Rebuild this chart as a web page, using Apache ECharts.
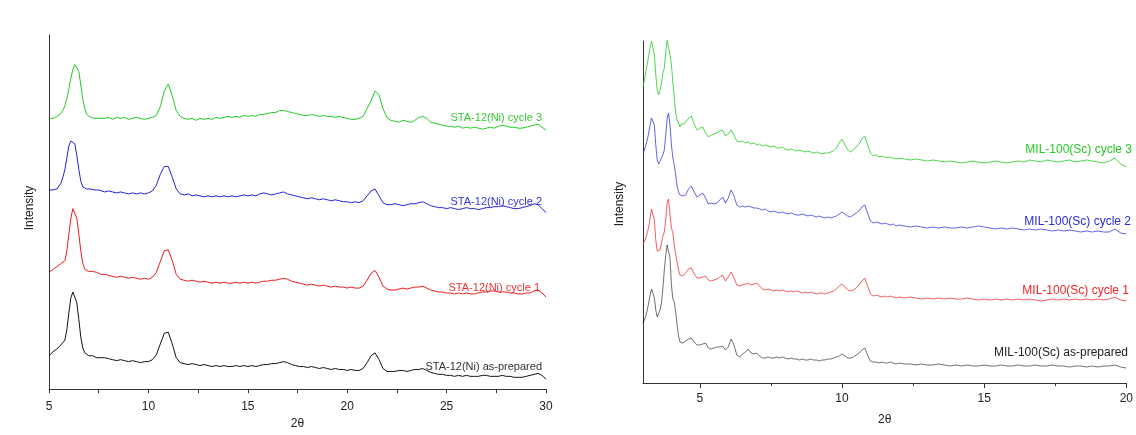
<!DOCTYPE html>
<html>
<head>
<meta charset="utf-8">
<script src="https://cdn.jsdelivr.net/npm/echarts@6/dist/echarts.min.js"></script>
<style>
  html, body { margin: 0; padding: 0; background: #fff; }
  #chart { width: 1136px; height: 435px; }
</style>
</head>
<body>
<div id="chart"></div>
<script>
// ---- STA-12(Ni) panel (left) ----
var staTwoTheta = [
  5.0,5.1,5.2,5.3,5.4,5.5,5.6,5.7,5.8,5.9,
  6.0,6.1,6.2,6.3,6.4,6.5,6.6,6.7,6.8,6.9,
  7.0,7.1,7.2,7.3,7.4,7.5,7.6,
  7.8,8.0,8.2,8.4,8.6,8.8,9.0,9.2,9.4,9.6,9.8,
  10.0,10.2,10.4,10.6,10.8,11.0,11.2,11.4,11.6,11.8,
  12.0,12.2,12.4,12.6,12.8,13.0,13.2,13.4,13.6,13.8,
  14.0,14.2,14.4,14.6,14.8,15.0,15.2,15.4,15.6,15.8,
  16.0,16.2,16.4,16.6,16.8,17.0,17.2,17.4,17.6,17.8,
  18.0,18.2,18.4,18.6,18.8,19.0,19.2,19.4,19.6,19.8,
  20.0,20.2,20.4,20.6,20.8,21.0,21.2,21.4,21.6,21.8,
  22.0,22.2,22.4,22.6,22.8,23.0,23.2,23.4,23.6,23.8,
  24.0,24.2,24.4,24.6,24.8,25.0,25.2,25.4,25.6,25.8,
  26.0,26.2,26.4,26.6,26.8,27.0,27.2,27.4,27.6,27.8,
  28.0,28.2,28.4,28.6,28.8,29.0,29.2,29.4,29.6,29.8,
  30.0
];
var staCycle3 = [
  277,278,277,279,279,280,282,285,290,297,
  307,318,327,332,331,325,311,297,287,281,
  279,278,279,277,278,277,279,
  277,278,276,278,277,278,276,277,278,277,276,
  277,278,280,289,305,312,300,285,279,277,
  276,277,275,277,276,277,276,278,277,278,
  279,278,279,278,280,279,280,279,281,281,
  282,283,283,285,285,284,283,282,281,280,
  280,281,280,279,280,279,279,278,279,278,
  277,276,276,277,279,287,295,305,301,287,
  278,275,274,273,275,274,273,275,278,279,
  277,273,272,271,270,269,269,268,269,267,
  268,267,268,267,266,267,268,267,269,270,
  269,268,268,267,267,268,269,270,271,268,
  265
];
var staCycle2 = [
  204,205,204,206,205,207,211,217,225,237,
  249,254,255,251,239,225,213,207,206,205,
  204,205,203,204,203,204,203,
  202,203,202,201,202,201,200,201,200,201,200,
  201,203,209,220,228,228,217,205,200,199,
  200,198,199,198,197,198,197,198,197,198,
  197,198,197,198,199,198,199,198,200,201,
  200,199,200,201,202,200,199,198,197,196,
  195,196,195,194,195,194,193,194,193,192,
  192,191,192,191,193,198,203,205,198,191,
  189,189,190,189,188,189,190,190,191,192,
  190,188,187,186,186,185,186,185,184,185,
  186,185,185,184,185,186,186,187,187,188,
  187,186,185,185,186,187,188,190,189,185,
  181
];
var staCycle1 = [
  120,121,123,124,126,127,129,131,132,142,
  159,175,185,183,175,159,142,129,123,122,
  121,120,121,119,120,119,118,
  118,117,116,115,116,115,114,115,114,113,114,
  113,115,120,131,142,143,132,118,113,112,
  111,112,111,110,111,110,109,110,109,110,
  109,109,110,109,110,109,110,109,110,111,
  111,112,112,113,114,113,111,110,109,108,
  107,108,107,106,107,106,105,106,105,105,
  104,105,104,104,106,112,119,122,115,106,
  103,102,102,103,104,103,104,105,105,106,
  104,102,101,100,100,99,99,98,99,98,
  99,98,98,99,100,100,101,101,100,100,
  100,99,99,98,98,99,99,101,102,99,
  95
];
var staAsPrepared = [
  35,37,39,40,42,44,46,48,51,62,
  79,94,100,99,89,72,54,43,38,36,
  35,34,35,34,33,34,33,
  33,32,31,30,31,30,29,30,29,28,29,
  29,31,36,47,58,59,47,33,28,27,
  26,27,26,25,26,25,24,25,24,25,
  24,24,25,24,25,24,25,24,25,26,
  26,27,27,28,29,28,26,25,24,24,
  23,24,23,22,23,22,21,22,21,21,
  20,21,20,20,22,28,35,38,31,22,
  19,19,19,20,20,19,20,21,21,22,
  20,18,17,16,16,15,15,14,15,14,
  15,14,14,14,15,15,14,14,14,15,
  14,14,13,13,13,14,15,16,17,15,
  11
];
var staTicks = [5, 7.5, 10, 12.5, 15, 17.5, 20, 22.5, 25, 27.5, 30];
var staTickLabels = [5, 10, 15, 20, 25, 30];

// ---- MIL-100(Sc) panel (right) ----
var milTwoTheta = [
  3.00,3.05,3.10,3.15,3.20,3.25,3.30,3.35,3.40,3.45,
  3.50,3.55,3.60,3.65,3.70,3.75,3.80,3.85,3.90,3.95,
  4.00,4.05,4.10,4.15,4.20,4.25,4.30,4.35,4.40,4.45,
  4.50,4.55,4.60,
  4.7,4.8,4.9,
  5.0,5.1,5.2,5.3,5.4,5.5,5.6,5.7,5.8,5.9,
  6.0,6.1,6.2,6.3,6.4,6.5,6.6,6.7,6.8,6.9,
  7.0,7.1,7.2,7.3,7.4,7.5,7.6,7.7,7.8,7.9,
  8.0,8.1,8.2,8.3,8.4,8.5,8.6,8.7,8.8,8.9,
  9.0,9.1,9.2,9.3,9.4,9.5,9.6,9.7,9.8,9.9,
  10.0,10.1,10.2,10.3,10.4,10.5,10.6,10.7,10.8,10.9,
  11.0,11.1,11.2,11.3,11.4,11.5,11.6,11.7,11.8,11.9,
  12.0,
  12.2,12.4,12.6,12.8,13.0,13.2,13.4,13.6,13.8,14.0,
  14.2,14.4,14.6,14.8,15.0,15.2,15.4,15.6,15.8,16.0,
  16.2,16.4,16.6,16.8,17.0,17.2,17.4,17.6,17.8,18.0,
  18.2,18.4,18.6,18.8,19.0,19.2,19.4,19.6,19.8,20.0
];
var milCycle3 = [
  297,304,312,320,328,337,343,344,329,309,
  294,289,294,301,311,316,332,344,344,329,
  319,302,286,271,264,261,257,260,258,260,
  262,264,266,
  268,260,254,
  256,257,251,247,249,250,251,253,254,248,
  250,254,249,243,242,243,241,242,240,241,
  239,240,238,239,238,237,238,236,236,237,
  235,234,235,234,233,234,233,232,233,232,
  231,232,231,230,231,231,232,233,236,241,
  245,239,234,232,234,237,240,245,248,239,
  231,228,229,227,228,227,226,227,226,225,
  226,
  225,224,225,224,223,224,223,222,223,222,
  221,222,223,222,221,222,223,222,221,222,
  223,222,224,223,222,224,223,222,223,224,
  222,223,224,223,222,221,223,226,220,217
];
var milCycle2 = [
  231,234,239,244,251,259,266,268,259,239,
  224,220,222,226,229,234,249,266,271,259,
  239,226,219,209,198,192,189,187,188,190,
  189,192,195,
  198,192,187,
  189,191,186,180,181,180,181,184,187,181,
  186,194,188,179,177,178,177,178,177,176,
  176,175,174,175,173,172,173,172,171,172,
  171,170,171,170,169,169,170,169,168,169,
  168,167,168,167,166,167,166,167,168,170,
  172,170,168,167,169,171,173,177,179,171,
  163,161,162,161,160,161,160,159,160,158,
  159,
  158,157,158,157,156,157,156,157,156,156,
  157,156,157,158,157,156,155,156,155,156,
  155,154,155,154,155,154,153,154,153,154,
  153,152,153,152,153,152,152,155,151,150
];
var milCycle1 = [
  140,142,146,151,157,166,175,177,164,144,
  133,131,134,141,148,152,164,181,185,169,
  156,151,139,129,122,114,109,107,108,109,
  111,113,115,
  116,110,106,
  106,107,108,104,103,104,105,107,109,103,
  107,112,106,99,98,99,100,101,99,100,
  101,98,95,94,95,94,93,94,93,94,
  93,92,93,92,93,92,91,92,91,92,
  91,90,91,91,90,91,92,93,95,98,
  100,97,94,93,94,96,99,103,106,98,
  90,88,89,88,87,88,87,88,87,86,
  87,
  86,87,86,85,86,85,86,85,86,85,
  85,86,85,84,85,84,85,84,85,84,
  85,84,85,84,83,84,85,84,85,84,
  85,84,85,84,85,84,85,87,84,83
];
var milAsPrepared = [
  61,64,68,74,81,89,95,96,86,74,
  67,69,74,81,96,114,129,139,141,126,
  99,85,82,72,59,48,42,40,41,42,
  43,44,45,
  46,42,39,
  39,40,41,36,35,36,37,37,38,34,
  37,45,39,29,27,30,32,35,31,30,
  31,28,26,26,27,26,26,27,26,27,
  26,25,26,25,25,24,25,24,24,25,
  24,24,23,24,24,25,25,26,27,28,
  30,28,26,26,27,29,31,34,36,29,
  23,22,22,21,22,21,21,22,21,20,
  21,
  20,20,19,20,19,19,20,19,18,19,
  18,19,18,18,19,18,18,19,18,18,
  19,18,18,19,18,18,19,18,18,17,
  18,18,17,18,17,18,18,19,17,16
];
var milMajorTicks = [5, 10, 15, 20];
var milMinorTicks = [7.5, 12.5, 17.5];

var FONT = '"Liberation Sans", Arial, sans-serif';
var GREEN = '#22cc22', BLUE = '#2222dd', RED = '#ee1c1c', BLACK = '#111111';

function pairs(xs, ys) {
  return xs.map(function (x, i) { return [x, ys[i]]; });
}

function lineSeries(name, xIdx, yIdx, xs, ys, color, opacity) {
  return {
    name: name,
    type: 'line',
    xAxisIndex: xIdx,
    yAxisIndex: yIdx,
    data: pairs(xs, ys),
    showSymbol: false,
    symbol: 'none',
    clip: true,
    lineStyle: { color: color, width: 1, opacity: opacity },
    silent: true
  };
}

function label(text, x, y, color, size) {
  return {
    type: 'text',
    x: x,
    y: y,
    style: {
      text: text,
      fill: color,
      font: size + 'px ' + FONT,
      align: 'right',
      verticalAlign: 'middle'
    }
  };
}

var axisLine = { show: true, lineStyle: { color: '#333', width: 1 } };

var chart = echarts.init(document.getElementById('chart'));
chart.setOption({
  backgroundColor: '#ffffff',
  animation: false,
  grid: [
    { left: 49, right: 590, top: 35, bottom: 39 },
    { left: 643, right: 7, top: 41, bottom: 52 }
  ],
  xAxis: [
    {
      gridIndex: 0, type: 'value', min: 5, max: 30,
      name: '2θ', nameLocation: 'middle', nameGap: 27,
      nameTextStyle: { fontFamily: FONT, fontSize: 12, color: '#222' },
      axisLine: axisLine,
      splitLine: { show: false },
      axisTick: { show: true, length: 4, customValues: staTicks, lineStyle: { color: '#333' } },
      axisLabel: { customValues: staTickLabels, margin: 12, fontFamily: FONT, fontSize: 12, color: '#222' }
    },
    {
      gridIndex: 1, type: 'value', min: 3, max: 20,
      name: '2θ', nameLocation: 'middle', nameGap: 31,
      nameTextStyle: { fontFamily: FONT, fontSize: 12, color: '#222' },
      axisLine: axisLine,
      splitLine: { show: false },
      axisTick: { show: true, length: 5, customValues: milMajorTicks, lineStyle: { color: '#333' } },
      axisLabel: { customValues: milMajorTicks, margin: 10, fontFamily: FONT, fontSize: 12, color: '#222' }
    },
    {
      gridIndex: 1, type: 'value', min: 3, max: 20, position: 'bottom',
      axisLine: { show: false },
      splitLine: { show: false },
      axisTick: { show: true, length: 3, customValues: milMinorTicks, lineStyle: { color: '#333' } },
      axisLabel: { show: false }
    }
  ],
  yAxis: [
    {
      gridIndex: 0, type: 'value', min: 1, max: 362,
      axisLine: axisLine, axisTick: { show: false },
      axisLabel: { show: false }, splitLine: { show: false }
    },
    {
      gridIndex: 1, type: 'value', min: 1, max: 343,
      axisLine: axisLine, axisTick: { show: false },
      axisLabel: { show: false }, splitLine: { show: false }
    }
  ],
  series: [
    lineSeries('STA-12(Ni) as-prepared', 0, 0, staTwoTheta, staAsPrepared, BLACK, 1),
    lineSeries('STA-12(Ni) cycle 1', 0, 0, staTwoTheta, staCycle1, RED, 1),
    lineSeries('STA-12(Ni) cycle 2', 0, 0, staTwoTheta, staCycle2, BLUE, 1),
    lineSeries('STA-12(Ni) cycle 3', 0, 0, staTwoTheta, staCycle3, GREEN, 1),
    lineSeries('MIL-100(Sc) as-prepared', 1, 1, milTwoTheta, milAsPrepared, BLACK, 0.6),
    lineSeries('MIL-100(Sc) cycle 1', 1, 1, milTwoTheta, milCycle1, RED, 0.7),
    lineSeries('MIL-100(Sc) cycle 2', 1, 1, milTwoTheta, milCycle2, BLUE, 0.7),
    lineSeries('MIL-100(Sc) cycle 3', 1, 1, milTwoTheta, milCycle3, GREEN, 0.8)
  ],
  graphic: [
    {
      type: 'text', x: 30, y: 208, rotation: Math.PI / 2,
      style: { text: 'Intensity', fill: '#222', font: '12px ' + FONT, align: 'center', verticalAlign: 'middle' }
    },
    {
      type: 'text', x: 620, y: 204, rotation: Math.PI / 2,
      style: { text: 'Intensity', fill: '#222', font: '12px ' + FONT, align: 'center', verticalAlign: 'middle' }
    },
    label('STA-12(Ni) cycle 3', 542, 118, '#33cc33', 11),
    label('STA-12(Ni) cycle 2', 542, 202, '#3333dd', 11),
    label('STA-12(Ni) cycle 1', 540, 288, '#ee3333', 11),
    label('STA-12(Ni) as-prepared', 542, 367, '#333333', 11),
    label('MIL-100(Sc) cycle 3', 1132, 150, '#22cc22', 12),
    label('MIL-100(Sc) cycle 2', 1131, 222, '#2a2ae0', 12),
    label('MIL-100(Sc) cycle 1', 1129, 291, '#ee2222', 12),
    label('MIL-100(Sc) as-prepared', 1128, 353, '#222222', 12)
  ]
});
window.onresize = chart.resize;
</script>
</body>
</html>
